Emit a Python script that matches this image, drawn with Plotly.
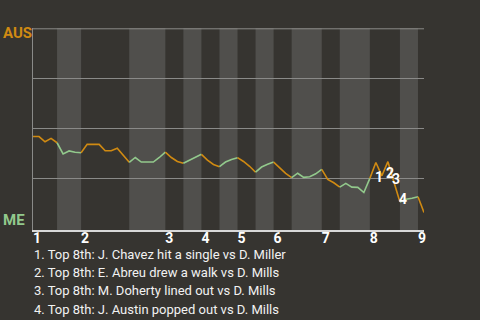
import plotly.graph_objects as go

# AUS win probability after each plate appearance (0 = ME wins, 1 = AUS wins)
aus_wp = [0.459, 0.459, 0.433, 0.450, 0.428, 0.372, 0.387, 0.380, 0.378,
          0.420, 0.420, 0.420, 0.388, 0.388, 0.400, 0.366, 0.330,
          0.354, 0.331, 0.331, 0.331, 0.354, 0.381,
          0.354, 0.334, 0.325,
          0.341, 0.356, 0.370,
          0.341, 0.319, 0.308,
          0.331, 0.344, 0.353,
          0.334, 0.310, 0.280,
          0.306, 0.320, 0.331,
          0.300, 0.274, 0.253,
          0.275, 0.254, 0.257, 0.272, 0.294,
          0.244, 0.227, 0.205,
          0.224, 0.205, 0.204, 0.178, 0.249,
          0.329, 0.262, 0.333, 0.231, 0.131,
          0.144, 0.149, 0.157,
          0.078]

# number of plate appearances in each half inning (top 1st, bottom 1st, ...)
half_inning_pa = [4, 4, 8, 6, 3, 3, 3, 3, 3, 3, 3, 5, 3, 5, 5, 3, 1]
inning_labels = ["1", "2", "3", "4", "5", "6", "7", "8", "9"]

team_top = "AUS"
team_bottom = "ME"

event_idx = [57, 59, 60, 61]
event_num = ["1", "2", "3", "4"]
event_text = [
    "1. Top 8th: J. Chavez hit a single vs D. Miller",
    "2. Top 8th: E. Abreu drew a walk vs D. Mills",
    "3. Top 8th: M. Doherty lined out vs D. Mills",
    "4. Top 8th: J. Austin popped out vs D. Mills",
]

BG = "#363430"
BAND = "#504f4c"
GRID = "#8a8a88"
ORANGE = "#d08a12"
GREEN = "#92c98c"
FONT = "Roboto"

bounds = [0]
for n in half_inning_pa:
    bounds.append(bounds[-1] + n)
inning_starts = bounds[0::2][:len(inning_labels)]

fig = go.Figure()
for k in range(len(half_inning_pa)):
    a, b = bounds[k], bounds[k + 1]
    fig.add_trace(go.Scatter(
        x=list(range(a, b + 1)), y=aus_wp[a:b + 1], mode="lines",
        line=dict(color=ORANGE if k % 2 == 0 else GREEN, width=1.6),
        hoverinfo="skip", showlegend=False))
    if k % 2 == 1:
        fig.add_shape(type="rect", xref="x", yref="paper", x0=a, x1=b, y0=0, y1=1,
                      fillcolor=BAND, line=dict(width=0), layer="below")

# top grid line (win probability 100%)
fig.add_shape(type="line", xref="paper", yref="y", x0=0, x1=1, y0=1.0, y1=1.0,
              line=dict(color=GRID, width=1), layer="below")

annotations = [
    dict(text="<b>" + team_top + "</b>", xref="paper", yref="paper", x=0, y=1,
         xanchor="left", yanchor="middle", xshift=-32, yshift=-5, showarrow=False,
         font=dict(family=FONT, size=15, color=ORANGE)),
    dict(text="<b>" + team_bottom + "</b>", xref="paper", yref="paper", x=0, y=0,
         xanchor="left", yanchor="middle", xshift=-32, yshift=10, showarrow=False,
         font=dict(family=FONT, size=15, color=GREEN)),
]
label_shift = [(3, -15), (2, -11), (2, 3), (3, 3)]
for n, i, (dx, dy) in zip(event_num, event_idx, label_shift):
    annotations.append(dict(text="<b>" + n + "</b>", x=i, y=aus_wp[i], xref="x", yref="y",
                            xshift=dx, yshift=dy, showarrow=False,
                            font=dict(family=FONT, size=14, color="white")))
for r, t in enumerate(event_text):
    annotations.append(dict(text=t, xref="paper", yref="paper", x=0, y=0,
                            xanchor="left", yanchor="middle", xshift=-1,
                            yshift=-(24.5 + 18.2 * r), showarrow=False,
                            font=dict(family=FONT, size=13, color="#f2f2f2")))

fig.update_layout(
    width=480, height=320, paper_bgcolor=BG, plot_bgcolor=BG,
    margin=dict(l=33, r=56, t=28, b=90),
    annotations=annotations,
    xaxis=dict(range=[0, bounds[-1]], showgrid=False, zeroline=False,
               showline=True, linecolor="#d8d8d8", linewidth=2,
               tickvals=inning_starts, ticktext=["<b>" + s + "</b>" for s in inning_labels],
               ticks="", ticklabelshift=4, ticklabelstandoff=-6,
               tickfont=dict(family=FONT, size=14, color="white")),
    yaxis=dict(range=[-0.01, 1.004], tickvals=[0.25, 0.5, 0.75], showticklabels=False,
               showgrid=True, gridcolor=GRID, gridwidth=1, zeroline=False,
               showline=True, linecolor=GRID, linewidth=1, ticks=""),
)

fig.write_html("out.html")
